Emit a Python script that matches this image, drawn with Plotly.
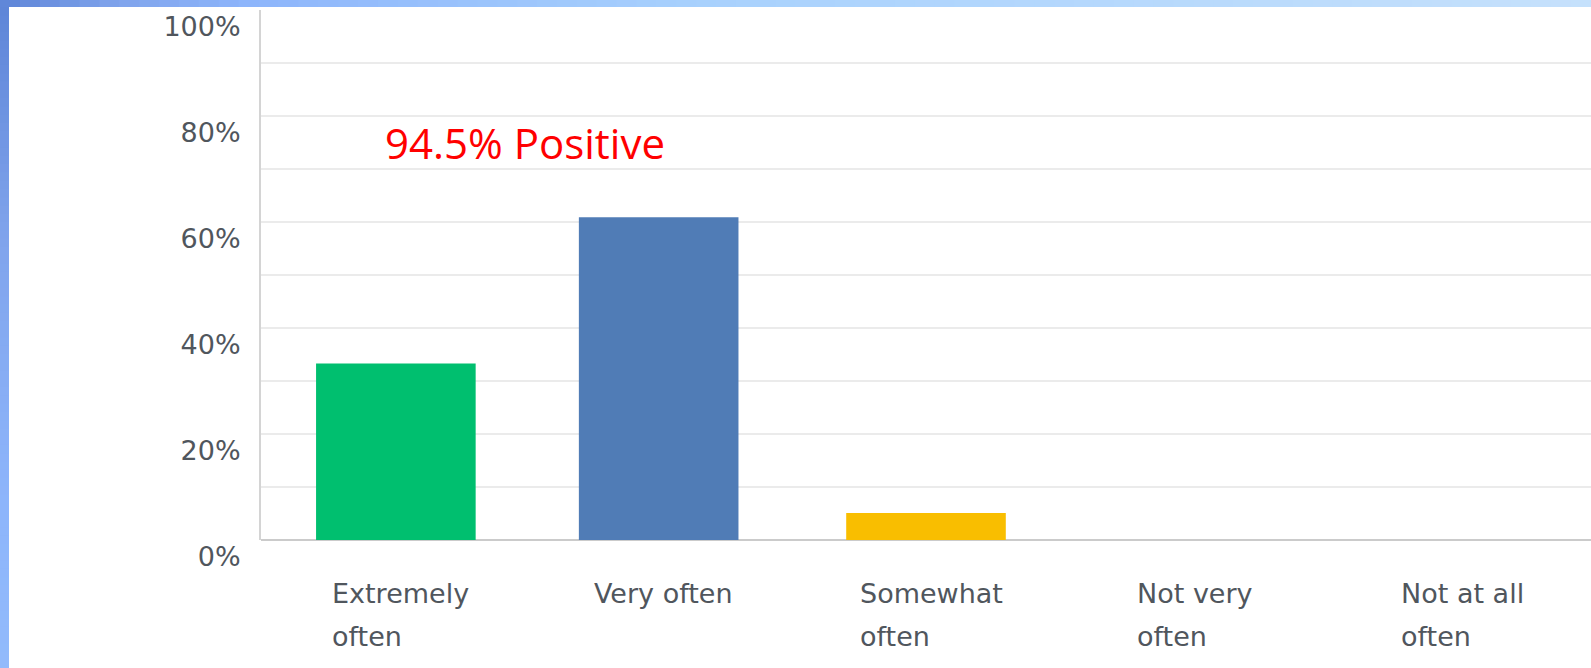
import plotly.graph_objects as go

categories = ["Extremely often", "Very often", "Somewhat often", "Not very often", "Not at all often"]
tick_labels = ["Extremely<br>often", "Very often", "Somewhat<br>often", "Not very<br>often", "Not at all<br>often"]
values = [33.3, 60.9, 5.1, 0.0, 0.0]
bar_colors = ["#00BF6F", "#507CB6", "#F9BE00", "#D25F90", "#6BC8CD"]
y_ticks = [0, 10, 20, 30, 40, 50, 60, 70, 80, 90, 100]
y_tick_text = ["0%", "", "20%", "", "40%", "", "60%", "", "80%", "", "100%"]
callout = "94.5% Positive"

# styling
bar_widths = [0.60, 0.60, 0.60, 0.60, 0.60]
bar_offsets = [-0.293, -0.305, -0.30, -0.3, -0.3]
label_xshift = [-64, -68, -68, -57, -59]
W, H = 1591, 668
ML, MT, MB = 261, 10, 128

fig = go.Figure()
fig.add_trace(go.Bar(
    x=categories, y=values, marker=dict(color=bar_colors, line=dict(width=0)),
    width=bar_widths, offset=bar_offsets, hoverinfo="skip",
))

annotations = []
for cat, lab, xs in zip(categories, tick_labels, label_xshift):
    for i, line in enumerate(lab.split("<br>")):
        annotations.append(dict(
            x=cat, xref="x", y=0, yref="paper", text=line, showarrow=False,
            xanchor="left", yanchor="middle", xshift=xs, yshift=-53 - 43 * i,
            font=dict(family="DejaVu Sans", size=27, color="#50565D"),
        ))
annotations.append(dict(
    x=(525 - ML) / (W - ML), xref="paper", y=75, yref="y", text=callout, showarrow=False,
    xanchor="center", yanchor="middle",
    font=dict(family="Open Sans", size=42, color="#FF0000"),
))

# gradient frame strips (left and top), colour by distance from the top-left corner
grad_stops = [(0, "#5D84D7"), (120, "#80A4EC"), (250, "#8DB5FB"), (700, "#A8D1FD"), (1600, "#C6E1FC")]

def hex2rgb(c):
    return [int(c[i:i + 2], 16) for i in (1, 3, 5)]

def grad(d):
    for (d0, c0), (d1, c1) in zip(grad_stops[:-1], grad_stops[1:]):
        if d <= d1:
            t = (d - d0) / (d1 - d0)
            a, b = hex2rgb(c0), hex2rgb(c1)
            return "rgb(%d,%d,%d)" % tuple(round(a[k] + (b[k] - a[k]) * t) for k in range(3))
    return grad_stops[-1][1]

shapes = []
N = 80
for i in range(N):
    x0 = W * i / N
    x1 = W * (i + 1) / N + 1
    shapes.append(dict(type="rect", xref="paper", yref="paper", xsizemode="pixel", ysizemode="pixel",
                       xanchor=0, yanchor=1, x0=x0 - ML, x1=x1 - ML, y0=MT, y1=MT - 7,
                       fillcolor=grad((x0 + x1) / 2), line=dict(width=0), layer="above"))
for i in range(N):
    y0 = 7 + (H - 7) * i / N
    y1 = 7 + (H - 7) * (i + 1) / N + 1
    shapes.append(dict(type="rect", xref="paper", yref="paper", xsizemode="pixel", ysizemode="pixel",
                       xanchor=0, yanchor=1, x0=-ML, x1=-ML + 9, y0=MT - y0, y1=MT - y1,
                       fillcolor=grad(0.5 * (y0 + y1) / 2), line=dict(width=0), layer="above"))

fig.update_layout(
    width=W, height=H,
    margin=dict(l=ML, r=0, t=MT, b=MB, autoexpand=False),
    paper_bgcolor="white", plot_bgcolor="white",
    showlegend=False, bargap=0.4, hovermode=False,
    annotations=annotations, shapes=shapes,
    xaxis=dict(showticklabels=False, showgrid=False, zeroline=False, showline=False, ticks="",
               fixedrange=True),
    yaxis=dict(range=[0, 100], tickvals=y_ticks, ticktext=y_tick_text,
               showgrid=True, gridcolor="#EBEBEB", gridwidth=2,
               showline=True, linecolor="#D4D4D4", linewidth=2,
               zeroline=True, zerolinecolor="#CBCBCB", zerolinewidth=2,
               ticks="", ticklabelstandoff=13, ticklabelshift=17,
               tickfont=dict(family="DejaVu Sans", size=27, color="#50565D"),
               fixedrange=True),
)

fig.write_html("out.html", config={"displayModeBar": False},
               post_script="document.body.style.margin='0';")
